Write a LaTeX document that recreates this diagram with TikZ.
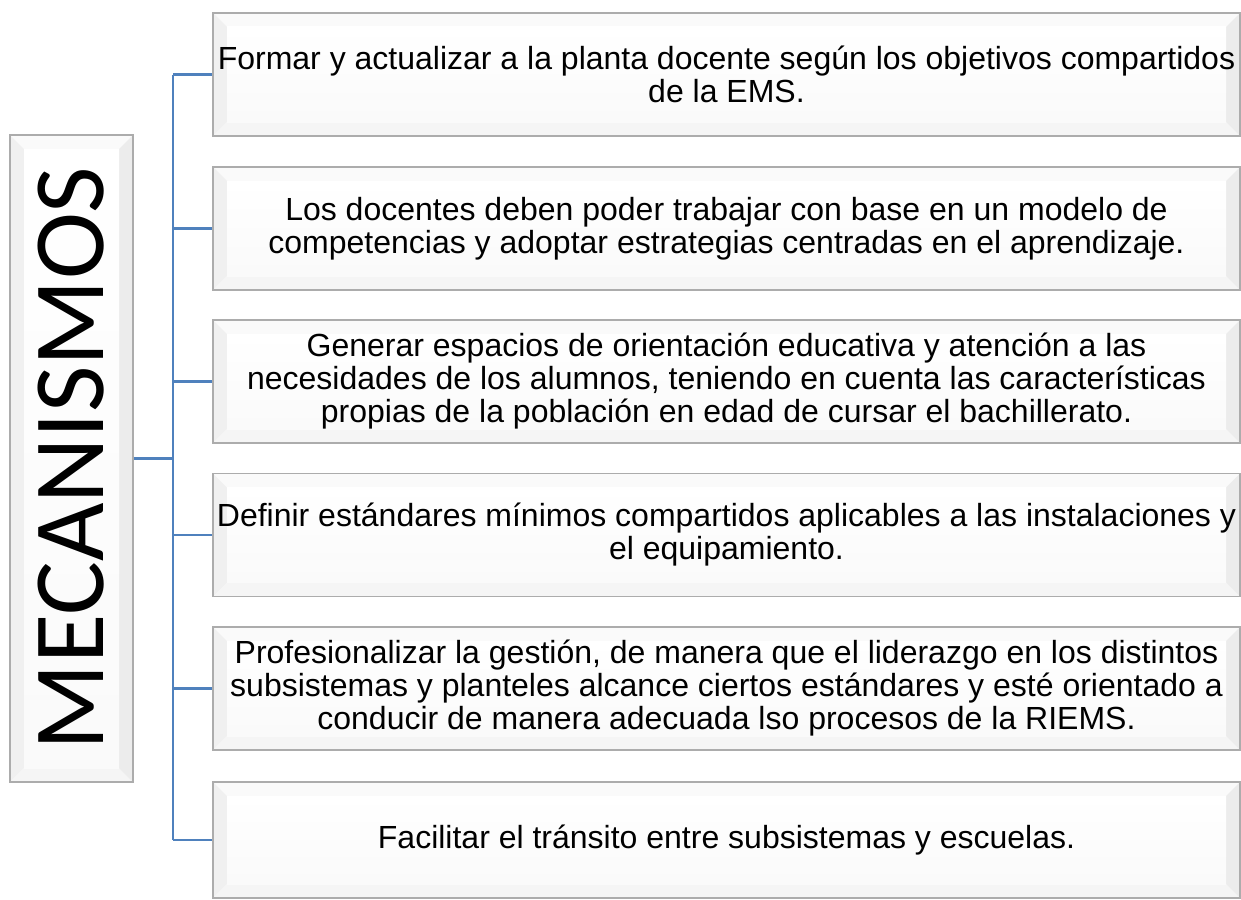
\documentclass[tikz,border=0pt]{standalone}
\usepackage{fontspec}
\setmainfont{Liberation Sans}
\newfontfamily\titlefont{Carlito}
\usetikzlibrary{calc}
\definecolor{linkblue}{RGB}{79,129,189}
\tikzset{
  bevel/.style={draw=gray!65, line width=1.5pt, fill=white, inner sep=0pt, align=center,
    font=\fontsize{32}{33}\selectfont,
    path picture={
      \path (path picture bounding box.north west) coordinate (pnw)
            (path picture bounding box.south east) coordinate (pse);
      \fill[gray!4] (pnw) -- (pnw -| pse) -- ($(pnw -| pse)+(-14pt,-14pt)$) -- ($(pnw)+(14pt,-14pt)$) -- cycle;
      \fill[gray!12] (pnw) -- (pnw |- pse) -- ($(pnw |- pse)+(14pt,14pt)$) -- ($(pnw)+(14pt,-14pt)$) -- cycle;
      \fill[gray!8] (pnw |- pse) -- (pse) -- ($(pse)+(-14pt,14pt)$) -- ($(pnw |- pse)+(14pt,14pt)$) -- cycle;
      \fill[gray!15] (pse) -- (pnw -| pse) -- ($(pnw -| pse)+(-14pt,-14pt)$) -- ($(pse)+(-14pt,14pt)$) -- cycle;
      \shade[top color=white, bottom color=gray!4] ($(pnw)+(14pt,-14pt)$) rectangle ($(pse)+(-14pt,14pt)$);
    }},
  link/.style={draw=linkblue, line width=2.5pt}
}
\begin{document}
\begin{tikzpicture}[x=1pt, y=-1pt]
		%%%%% START %%%%%
		\useasboundingbox (0,0) rectangle (1241,899);
		
		\node[bevel, minimum width=123pt, minimum height=647pt] (mec) at (71.5, 458.5)
			{\rotatebox{90}{\titlefont\fontsize{101}{101}\selectfont MECANISMOS}};
		
		\node[bevel, minimum width=1027pt, minimum height=123pt] (b1) at (726.5, 74.5)
			{Formar y actualizar a la planta docente según los objetivos compartidos\\de la EMS.};
		\node[bevel, minimum width=1027pt, minimum height=123pt] (b2) at (726.5, 228.5)
			{Los docentes deben poder trabajar con base en un modelo de\\competencias y adoptar estrategias centradas en el aprendizaje.};
		\node[bevel, minimum width=1027pt, minimum height=123pt] (b3) at (726.5, 381.5)
			{Generar espacios de orientación educativa y atención a las\\necesidades de los alumnos, teniendo en cuenta las características\\propias de la población en edad de cursar el bachillerato.};
		\node[bevel, minimum width=1027pt, minimum height=123pt] (b4) at (726.5, 535)
			{Definir estándares mínimos compartidos aplicables a las instalaciones y\\el equipamiento.};
		\node[bevel, minimum width=1027pt, minimum height=123pt] (b5) at (726.5, 688.5)
			{Profesionalizar la gestión, de manera que el liderazgo en los distintos\\subsistemas y planteles alcance ciertos estándares y esté orientado a\\conducir de manera adecuada lso procesos de la RIEMS.};
		\node[bevel, minimum width=1027pt, minimum height=116pt] (b6) at (726.5, 840)
			{Facilitar el tránsito entre subsistemas y escuelas.};
		
		% spine
		\coordinate (spine) at (173, 0);
		\draw[link] (mec.east) -- (spine |- mec.east);
		\draw[link] (spine |- b1.west) -- (spine |- b6.west);
		\draw[link] (spine |- b1.west) -- (b1.west);
		\draw[link] (spine |- b2.west) -- (b2.west);
		\draw[link] (spine |- b3.west) -- (b3.west);
		\draw[link] (spine |- b4.west) -- (b4.west);
		\draw[link] (spine |- b5.west) -- (b5.west);
		\draw[link] (spine |- b6.west) -- (b6.west);
		
		%%%%% END %%%%%
\end{tikzpicture}
\end{document}
